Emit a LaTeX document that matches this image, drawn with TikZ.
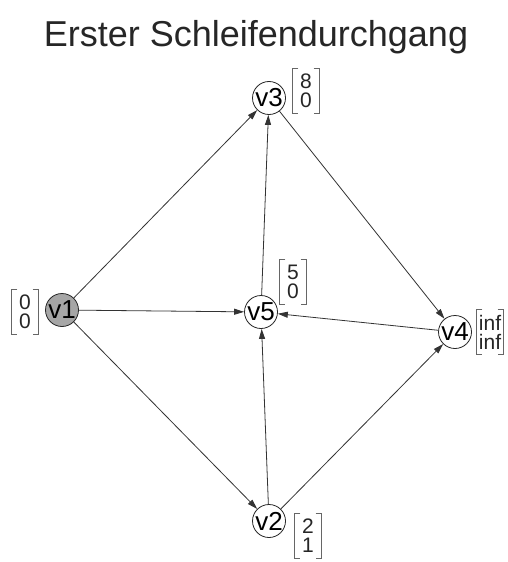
\documentclass[tikz,border=0pt]{standalone}
\usepackage{fontspec}
\setmainfont{Liberation Sans}
\usetikzlibrary{arrows.meta}
\begin{document}
\begin{tikzpicture}[x=1pt,y=-1pt,
  vertex/.style={circle,draw=black!85,line width=0.8pt,minimum size=33pt,inner sep=0pt,
    font=\fontsize{26}{26}\selectfont,fill=white},
  start/.style={vertex,fill=black!35},
  vec/.style={inner sep=0pt,minimum width=27pt,minimum height=45pt,align=center,
    font=\fontsize{21}{19}\selectfont,text=black!85},
  bracket/.style={draw=black!60,line width=0.7pt},
  edge/.style={draw=black!80,line width=0.8pt,-{Triangle[length=10pt,width=6pt]}},
  title/.style={font=\fontsize{36}{36}\selectfont,text=black!85}]
\useasboundingbox[fill=white] (0,0) rectangle (508,562);

\node[title] (t) at (256,37) {Erster Schleifendurchgang};

% vertices
\node[start]  (v1) at (62,310)  {v1};
\node[vertex] (v3) at (269,98)  {v3};
\node[vertex] (v5) at (261,312) {v5};
\node[vertex] (v4) at (455,332) {v4};
\node[vertex] (v2) at (269,521) {v2};

% distance vectors
\node[vec] (l1) at (25,312)  {0\\0};
\node[vec] (l3) at (306,91)  {8\\0};
\node[vec] (l5) at (293,282) {5\\0};
\node[vec] (l4) at (490,332) {inf\\inf};
\node[vec] (l2) at (308,536) {2\\1};

\foreach \n in {l1,l3,l5,l4,l2}{
  \draw[bracket] ([xshift=6pt]\n.north west) -| (\n.south west) -- ++(6pt,0);
  \draw[bracket] ([xshift=-6pt]\n.north east) -| (\n.south east) -- ++(-6pt,0);
}

% edges
\draw[edge] (v1) -- (v3);
\draw[edge] (v1) -- (v5);
\draw[edge] (v1) -- (v2);
\draw[edge] (v3) -- (v4);
\draw[edge] (v5) -- (v3);
\draw[edge] (v2) -- (v5);
\draw[edge] (v2) -- (v4);
\draw[edge] (v4) -- (v5);
\end{tikzpicture}
\end{document}
